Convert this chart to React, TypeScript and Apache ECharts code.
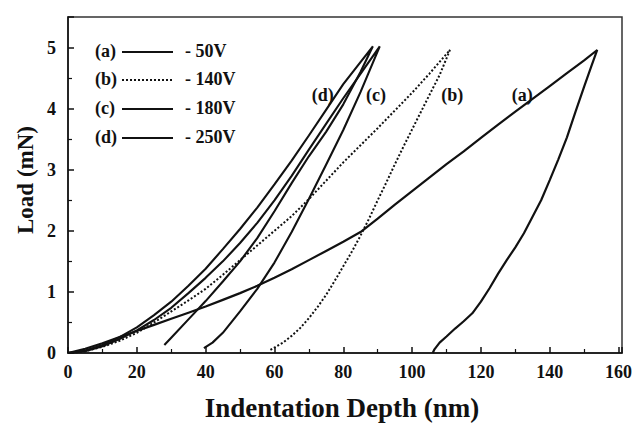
import React, { useEffect, useRef } from "react";
import * as echarts from "echarts";

// Indentation depth (nm), load (mN)
const aLoad = [[0,0],[5,0.07],[10,0.16],[15,0.26],[20,0.36],[25,0.46],[30,0.56],[35,0.66],[40,0.76],[45,0.87],[50,0.98],[55,1.1],[60,1.23],[65,1.37],[70,1.52],[75,1.67],[80,1.82],[85,1.98],[90,2.2],[95,2.43],[100,2.65],[105,2.87],[110,3.09],[115,3.3],[120,3.52],[125,3.74],[130,3.95],[135,4.16],[140,4.37],[145,4.58],[150,4.79],[153.8,4.96]];
const aUnload = [[153.8,4.96],[152,4.68],[150,4.36],[147.5,3.95],[145,3.53],[142.5,3.17],[140,2.83],[137.5,2.5],[135,2.23],[132.5,1.96],[130,1.73],[127.5,1.52],[125,1.3],[122.5,1.06],[120,0.84],[117.5,0.65],[115,0.52],[112.5,0.4],[110,0.27],[108,0.17],[106.5,0.06],[106,0]];
const bLoad = [[0,0],[5,0.03],[10,0.1],[15,0.2],[20,0.33],[25,0.5],[30,0.68],[35,0.86],[40,1.05],[45,1.28],[50,1.52],[55,1.76],[60,2.0],[65,2.24],[70,2.52],[75,2.82],[80,3.12],[85,3.4],[90,3.68],[95,3.97],[100,4.26],[105,4.57],[111,4.96]];
const bUnload = [[111,4.96],[108,4.55],[105,4.22],[102.5,3.94],[100,3.66],[97.5,3.38],[95,3.09],[92.5,2.79],[90,2.5],[87.5,2.2],[85,1.92],[82.5,1.66],[80,1.42],[77.5,1.18],[75,0.95],[72.5,0.75],[70,0.57],[67.5,0.41],[65,0.28],[62.5,0.17],[60,0.09],[58.5,0.04]];
const cLoad = [[0,0],[5,0.03],[10,0.11],[15,0.23],[20,0.37],[25,0.54],[30,0.74],[35,0.98],[40,1.23],[45,1.5],[50,1.8],[55,2.13],[60,2.5],[65,2.9],[70,3.33],[75,3.75],[80,4.17],[85,4.57],[90.6,5.02]];
const cUnload = [[90.6,5.02],[85,4.27],[80,3.65],[75,3.08],[70,2.52],[65,1.98],[60,1.48],[55,1.05],[50,0.68],[45,0.33],[42,0.17],[39.5,0.08]];
const dLoad = [[0,0],[5,0.04],[10,0.13],[15,0.26],[20,0.42],[25,0.62],[30,0.84],[35,1.1],[40,1.38],[45,1.7],[50,2.03],[55,2.38],[60,2.76],[65,3.15],[70,3.56],[75,3.98],[80,4.4],[85,4.76],[88.6,5.02]];
const dUnload = [[88.6,5.02],[85,4.6],[80,4.07],[75,3.62],[70,3.22],[65,2.78],[60,2.32],[55,1.88],[50,1.5],[45,1.17],[40,0.85],[35,0.55],[30,0.25],[28,0.13]];

const sampleTags = ["(a)", "(b)", "(c)", "(d)"];
const sampleNames = ["- 50V", "- 140V", "- 180V", "- 250V"];
const curveLabelPos = [[132, 4.23], [111.7, 4.23], [89.5, 4.23], [74, 4.23]];

const FONT = '"Liberation Serif", "Times New Roman", serif';
const INK = "#111";

export default function App() {
  const ref = useRef<HTMLDivElement>(null);
  useEffect(() => {
    if (!ref.current) return;
    const chart = echarts.init(ref.current, null, { renderer: "svg" });
    const curves = [
      aLoad.concat(aUnload.slice(1)),
      bLoad.concat(bUnload.slice(1)),
      cLoad.concat(cUnload.slice(1)),
      dLoad.concat(dUnload.slice(1)),
    ];
    const styles = [
      { width: 2.2, type: "solid" },
      { width: 2, type: "dotted" },
      { width: 2.1, type: "solid" },
      { width: 2.1, type: "solid" },
    ];

    chart.setOption({
      animation: false,
      grid: { left: 68, right: 14, top: 17, bottom: 73, show: true, borderColor: "#333", borderWidth: 1.5 },
      xAxis: {
        type: "value", min: 0, max: 161, interval: 20,
        axisLine: { lineStyle: { color: INK, width: 1.5 } },
        axisTick: { inside: true, length: 6, lineStyle: { color: INK, width: 1.5 } },
        minorTick: { show: true, splitNumber: 2, length: 4, lineStyle: { color: INK, width: 1.2 } },
        axisLabel: { showMaxLabel: false, margin: 10, color: INK, fontFamily: FONT, fontWeight: "bold", fontSize: 18 },
        splitLine: { show: false },
      },
      yAxis: {
        type: "value", min: 0, max: 5.5, interval: 1,
        axisLine: { lineStyle: { color: INK, width: 1.5 } },
        axisTick: { inside: true, length: 6, lineStyle: { color: INK, width: 1.5 } },
        minorTick: { show: true, splitNumber: 2, length: 4, lineStyle: { color: INK, width: 1.2 } },
        axisLabel: { showMaxLabel: false, margin: 12, color: INK, fontFamily: FONT, fontWeight: "bold", fontSize: 18 },
        splitLine: { show: false },
      },
      series: curves.map((data, i) => ({
        type: "line",
        data,
        showSymbol: false,
        lineStyle: { color: INK, width: styles[i].width, type: styles[i].type },
        z: 3,
      })),
    });

    const legendRows = [52, 80, 109, 138];
    const graphic: any[] = [];
    sampleTags.forEach((t, i) => {
      const y = legendRows[i];
      graphic.push({ type: "text", left: 95, top: y - 10, style: { text: t, font: `bold 18px ${FONT}`, fill: INK } });
      graphic.push({ type: "line", shape: { x1: 122, y1: y, x2: 173, y2: y }, style: { stroke: INK, lineWidth: styles[i].width, lineDash: styles[i].type === "dotted" ? [2, 2] : null } });
      graphic.push({ type: "text", left: 185, top: y - 10, style: { text: sampleNames[i], font: `bold 18px ${FONT}`, fill: INK } });
    });
    curveLabelPos.forEach((p, i) => {
      const [px, py] = chart.convertToPixel({ gridIndex: 0 }, p) as number[];
      graphic.push({ type: "text", x: px, y: py, z: 10, style: { text: sampleTags[i], font: `bold 18px ${FONT}`, fill: INK, align: "center", verticalAlign: "middle" } });
    });
    graphic.push({ type: "text", x: 342, y: 408, style: { text: "Indentation Depth (nm)", font: `bold 27px ${FONT}`, fill: INK, align: "center", verticalAlign: "middle" } });
    graphic.push({ type: "text", x: 25, y: 180, rotation: Math.PI / 2, style: { text: "Load (mN)", font: `bold 23px ${FONT}`, fill: INK, align: "center", verticalAlign: "middle" } });
    chart.setOption({ graphic });

    return () => chart.dispose();
  }, []);
  return <div ref={ref} style={{ width: 636, height: 426, position: "absolute", left: 0, top: 0, background: "#fff" }} />;
}
